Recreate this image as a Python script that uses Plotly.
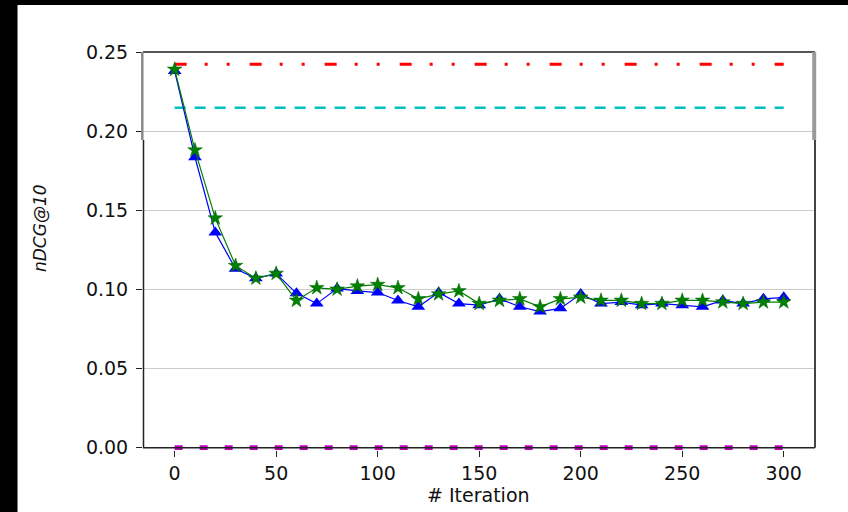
import plotly.graph_objects as go

iterations = list(range(0, 301, 10))
blue_vals = [0.238, 0.1835, 0.136, 0.113, 0.107, 0.110, 0.0975, 0.091, 0.1005, 0.099,
             0.098, 0.093, 0.089, 0.098, 0.091, 0.090, 0.094, 0.089, 0.086, 0.088,
             0.097, 0.091, 0.092, 0.090, 0.091, 0.090, 0.089, 0.093, 0.091, 0.094, 0.095]
green_vals = [0.239, 0.188, 0.145, 0.115, 0.107, 0.110, 0.093, 0.101, 0.100, 0.102,
              0.103, 0.101, 0.094, 0.097, 0.099, 0.091, 0.093, 0.094, 0.089, 0.094,
              0.095, 0.093, 0.093, 0.091, 0.091, 0.093, 0.093, 0.092, 0.091, 0.092, 0.092]
red_level = 0.2422
cyan_level = 0.2148
magenta_level = 0.0
line_x = [0, 300]

y_ticks = [0.0, 0.05, 0.10, 0.15, 0.20, 0.25]
x_ticks = [0, 50, 100, 150, 200, 250, 300]
x_title = "# Iteration"
y_title = "<i>nDCG@10</i>"

YR = [-0.0015, 0.25]
XR = [-15.6, 315.4]
L, R, T, B = 143, 33, 52, 62
W, H = 848, 512
PW, PH = W - L - R, H - T - B

def px_x(px):
    return (px - L) / PW

def px_y(py):
    return (H - B - py) / PH

def val_y(v):
    return (v - YR[0]) / (YR[1] - YR[0])

fig = go.Figure()
fig.add_trace(go.Scatter(x=line_x, y=[red_level] * 2, mode="lines",
                         line=dict(color="#ff0000", width=3, dash="12px,18px,3px,19px,3px,20px")))
fig.add_trace(go.Scatter(x=line_x, y=[cyan_level] * 2, mode="lines",
                         line=dict(color="#00c0c0", width=2.5, dash="11px,9px")))
fig.add_trace(go.Scatter(x=line_x, y=[magenta_level] * 2, mode="lines",
                         line=dict(color="#c000c0", width=5, dash="8px,17px")))
fig.add_trace(go.Scatter(x=iterations, y=blue_vals, mode="lines+markers",
                         line=dict(color="#0000ff", width=1.2),
                         marker=dict(symbol="triangle-up", size=12, color="#0000ff",
                                     line=dict(color="#0000ff", width=0))))
fig.add_trace(go.Scatter(x=iterations, y=green_vals, mode="lines+markers",
                         line=dict(color="#008000", width=1.2),
                         marker=dict(symbol="star", size=11, color="#008000",
                                     line=dict(color="#006000", width=0.5))))

shapes = []
# black frame strips of the screenshot
shapes.append(dict(type="rect", xref="paper", yref="paper",
                   x0=px_x(0), x1=px_x(17.5), y0=px_y(H), y1=px_y(0),
                   fillcolor="black", line=dict(width=0), layer="above"))
shapes.append(dict(type="rect", xref="paper", yref="paper",
                   x0=px_x(0), x1=px_x(W), y0=px_y(5), y1=px_y(0),
                   fillcolor="black", line=dict(width=0), layer="above"))
brk = px_y(140)
# spines
shapes.append(dict(type="line", xref="paper", yref="paper", x0=0, x1=1, y0=1, y1=1,
                   line=dict(color="#555555", width=2), layer="above"))
shapes.append(dict(type="line", xref="paper", yref="paper", x0=0, x1=1,
                   y0=val_y(0), y1=val_y(0), line=dict(color="#222222", width=1.5), layer="above"))
shapes.append(dict(type="line", xref="paper", yref="paper", x0=px_x(142.3), x1=px_x(142.3),
                   y0=brk, y1=1, line=dict(color="#8a8a8a", width=2.5), layer="above"))
shapes.append(dict(type="line", xref="paper", yref="paper", x0=px_x(143.5), x1=px_x(143.5),
                   y0=val_y(0), y1=brk, line=dict(color="#222222", width=1.5), layer="above"))
shapes.append(dict(type="line", xref="paper", yref="paper", x0=px_x(814.2), x1=px_x(814.2),
                   y0=brk, y1=1, line=dict(color="#9a9a9a", width=4), layer="above"))
shapes.append(dict(type="line", xref="paper", yref="paper", x0=px_x(815), x1=px_x(815),
                   y0=val_y(0), y1=brk, line=dict(color="#444444", width=2), layer="above"))

font = dict(family="DejaVu Sans", size=19, color="#111111")

fig.update_layout(
    width=W, height=H,
    margin=dict(l=L, r=R, t=T, b=B),
    paper_bgcolor="white", plot_bgcolor="white",
    showlegend=False,
    font=font,
    shapes=shapes,
    xaxis=dict(range=XR, tickvals=x_ticks, showgrid=False, zeroline=False, showline=False,
               ticks="outside", ticklen=6, tickwidth=1, tickcolor="#222222",
               tickfont=font),
    yaxis=dict(range=YR, tickvals=y_ticks, tickformat=".2f", showgrid=True,
               gridcolor="#cccccc", gridwidth=1.2, zeroline=False, showline=False,
               ticks="outside", ticklen=6, tickwidth=1, tickcolor="#222222",
               ticklabelstandoff=4, tickfont=font),
    annotations=[
        dict(text=x_title, xref="paper", yref="paper", x=px_x(478), y=px_y(495),
             showarrow=False, font=dict(family="DejaVu Sans", size=19, color="#111111"),
             xanchor="center", yanchor="middle"),
        dict(text=y_title, xref="paper", yref="paper", x=px_x(40), y=px_y(228),
             showarrow=False, textangle=-90,
             font=dict(family="DejaVu Sans", size=17, color="#111111"),
             xanchor="center", yanchor="middle"),
    ],
)

fig.write_html("out.html", config={"displayModeBar": False},
               post_script="document.body.style.margin='0';document.body.style.overflow='hidden';")
